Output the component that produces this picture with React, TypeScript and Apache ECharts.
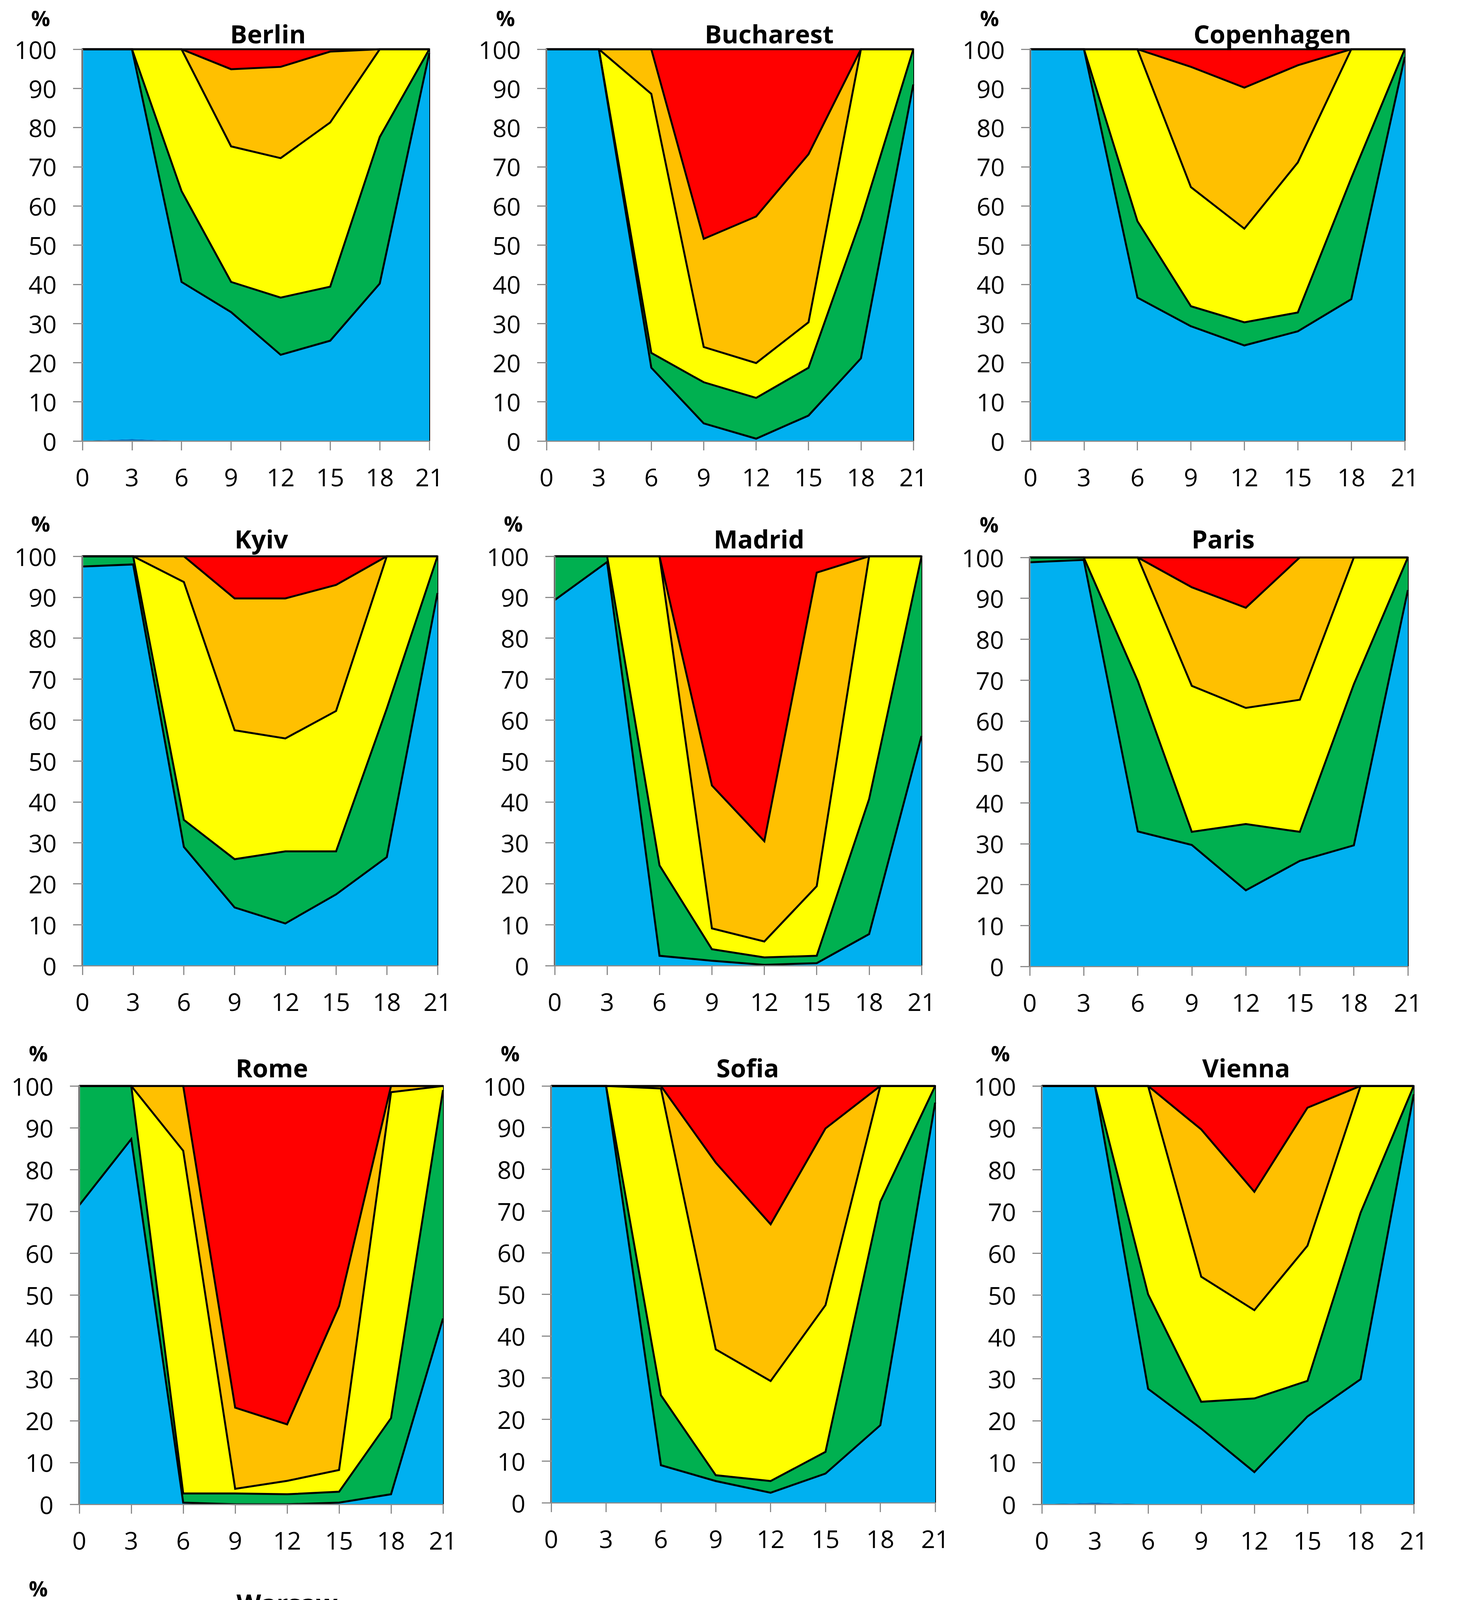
import React, { useEffect, useRef } from "react";
import * as echarts from "echarts";

// ---------- data ----------
const hours = ["0", "3", "6", "9", "12", "15", "18", "21"];
const categories = ["cold", "cool", "comfortable", "warm", "hot", "very hot"];
const legendOrder = ["very hot", "hot", "warm", "comfortable", "cool", "cold"];
const cityNames = ["Berlin", "Bucharest", "Copenhagen", "Kyiv", "Madrid", "Paris", "Rome", "Sofia", "Vienna", "Warsaw"];
const zeros = [0, 0, 0, 0, 0, 0, 0, 0];

// values per category, in the order of `categories`, at the hours above (% of time)
const berlin = [
  [0, 0.5, 0, 0, 0, 0, 0, 0],
  [100, 99.5, 40.6, 32.9, 22, 25.6, 40.2, 99],
  [0, 0, 23.2, 7.7, 14.6, 13.8, 37.4, 1],
  [0, 0, 36.2, 34.6, 35.6, 41.9, 22.4, 0],
  [0, 0, 0, 19.7, 23.3, 18.1, 0, 0],
  [0, 0, 0, 5.1, 4.5, 0.6, 0, 0],
];
const bucharest = [
  zeros,
  [100, 100, 18.7, 4.5, 0.6, 6.5, 21.1, 91],
  [0, 0, 3.8, 10.5, 10.4, 12.2, 35.4, 9],
  [0, 0, 66.1, 9, 8.9, 11.6, 43.5, 0],
  [0, 0, 11.4, 27.6, 37.4, 42.9, 0, 0],
  [0, 0, 0, 48.4, 42.7, 26.8, 0, 0],
];
const copenhagen = [
  zeros,
  [100, 100, 36.6, 29.3, 24.4, 28, 36.2, 98],
  [0, 0, 19.5, 5.1, 5.9, 4.8, 30.9, 2],
  [0, 0, 43.9, 30.4, 23.9, 38.3, 32.9, 0],
  [0, 0, 0, 30.7, 36, 24.8, 0, 0],
  [0, 0, 0, 4.5, 9.8, 4.1, 0, 0],
];
const kyiv = [
  zeros,
  [97.5, 98, 29, 14.2, 10.3, 17.4, 26.5, 91],
  [2.5, 2, 6.6, 11.8, 17.6, 10.5, 36.3, 9],
  [0, 0, 58.1, 31.5, 27.6, 34.3, 37.2, 0],
  [0, 0, 6.3, 32.2, 34.2, 30.8, 0, 0],
  [0, 0, 0, 10.3, 10.3, 7, 0, 0],
];
const madrid = [
  zeros,
  [89.3, 98.6, 2.4, 1.2, 0.2, 0.6, 7.7, 56.1],
  [10.7, 1.4, 22.1, 2.8, 1.8, 1.8, 33, 43.9],
  [0, 0, 75.5, 5.1, 3.9, 17, 59.3, 0],
  [0, 0, 0, 34.9, 24.5, 76.6, 0, 0],
  [0, 0, 0, 56, 69.6, 4, 0, 0],
];
const paris = [
  zeros,
  [98.8, 99.4, 33, 29.7, 18.6, 25.8, 29.6, 92],
  [1.2, 0.6, 36.8, 3.2, 16.2, 7.1, 39.4, 8],
  [0, 0, 30.2, 35.7, 28.4, 32.3, 31, 0],
  [0, 0, 0, 24.1, 24.5, 34.8, 0, 0],
  [0, 0, 0, 7.3, 12.3, 0, 0, 0],
];
const rome = [
  zeros,
  [71.5, 87.3, 0.4, 0, 0, 0.4, 2.4, 44.4],
  [28.5, 12.7, 2.2, 2.6, 2.4, 2.6, 18.2, 54.6],
  [0, 0, 81.9, 1.1, 3.2, 5.2, 77.9, 1],
  [0, 0, 15.5, 19.4, 13.5, 39.2, 1.5, 0],
  [0, 0, 0, 76.9, 80.9, 52.6, 0, 0],
];
const sofia = [
  zeros,
  [100, 100, 9, 5.2, 2.4, 7, 18.6, 96],
  [0, 0, 16.8, 1.4, 2.8, 5.2, 53.6, 4],
  [0, 0, 73.6, 30.2, 24, 35.2, 27.8, 0],
  [0, 0, 0.6, 44.8, 37.6, 42.4, 0, 0],
  [0, 0, 0, 18.4, 33.2, 10.2, 0, 0],
];
const vienna = [
  [0, 0.4, 0, 0, 0, 0, 0, 0],
  [100, 99.6, 27.6, 18.1, 7.7, 21, 29.9, 98],
  [0, 0, 22.6, 6.4, 17.6, 8.5, 39.8, 2],
  [0, 0, 49.8, 29.9, 21.1, 32.3, 30.3, 0],
  [0, 0, 0, 35.2, 28.3, 33, 0, 0],
  [0, 0, 0, 10.4, 25.3, 5.2, 0, 0],
];
const warsaw = [
  zeros,
  [100, 100, 29.8, 22.5, 15.4, 23.7, 36.9, 94],
  [0, 0, 23.5, 11.3, 9.1, 7, 43.3, 6],
  [0, 0, 46.3, 38.6, 34.8, 43.5, 19.8, 0],
  [0, 0, 0.4, 23.6, 34.8, 23.8, 0, 0],
  [0, 0, 0, 4, 5.9, 2, 0, 0],
];
const cityData = [berlin, bucharest, copenhagen, kyiv, madrid, paris, rome, sofia, vienna, warsaw];

// ---------- styling / layout ----------
const colors = ["#0070C0", "#00B0F0", "#00B050", "#FFFF00", "#FFC000", "#FF0000"];
const FONT = "'Open Sans', 'Noto Sans', sans-serif";
const AXIS_GREY = "#8c8c8c";

const layout = [
  { l: 211, r: 1099, t: 126, b: 1129, tx: 686, ty: 86, px: 104, py: 46 },
  { l: 1399, r: 2338, t: 126, b: 1129, tx: 1969, ty: 86, px: 1294, py: 46 },
  { l: 2638, r: 3596, t: 126, b: 1129, tx: 3257, ty: 86, px: 2533, py: 46 },
  { l: 211, r: 1120, t: 1424, b: 2472, tx: 669, ty: 1379, px: 104, py: 1340 },
  { l: 1420, r: 2359, t: 1424, b: 2472, tx: 1943, ty: 1379, px: 1314, py: 1340 },
  { l: 2636, r: 3604, t: 1427, b: 2474, tx: 3131, ty: 1379, px: 2532, py: 1342 },
  { l: 203, r: 1134, t: 2780, b: 3851, tx: 696, ty: 2733, px: 98, py: 2696 },
  { l: 1411, r: 2394, t: 2780, b: 3847, tx: 1914, ty: 2733, px: 1306, py: 2696 },
  { l: 2667, r: 3619, t: 2780, b: 3851, tx: 3190, ty: 2733, px: 2561, py: 2696 },
  { l: 203, r: 1134, t: 4147, b: 5181, tx: 735, ty: 4103, px: 98, py: 4066 },
];

export default function App() {
  const ref = useRef<HTMLDivElement>(null);

  useEffect(() => {
    const chart = echarts.init(ref.current as HTMLDivElement, null, { renderer: "svg" });
    const grid: any[] = [];
    const xAxis: any[] = [];
    const yAxis: any[] = [];
    const series: any[] = [];
    const graphic: any[] = [];

    cityData.forEach((values, i) => {
      const L = layout[i];
      grid.push({
        left: L.l,
        top: L.t,
        width: L.r - L.l,
        height: L.b - L.t,
        show: true,
        borderColor: "#000",
        borderWidth: 4,
        backgroundColor: "transparent",
      });
      xAxis.push({
        type: "category",
        gridIndex: i,
        data: hours,
        boundaryGap: false,
        z: 10,
        axisLine: { show: true, onZero: false, lineStyle: { color: AXIS_GREY, width: 3 } },
        axisTick: { show: true, interval: 0, length: 24, lineStyle: { color: AXIS_GREY, width: 3 } },
        axisLabel: { interval: 0, color: "#000", fontSize: 63, fontFamily: FONT, margin: 60 },
        splitLine: { show: false },
      });
      yAxis.push({
        type: "value",
        gridIndex: i,
        min: 0,
        max: 100,
        interval: 10,
        z: 10,
        axisLine: { show: true, lineStyle: { color: AXIS_GREY, width: 3 } },
        axisTick: { show: true, length: 24, lineStyle: { color: AXIS_GREY, width: 3 } },
        axisLabel: { color: "#000", fontSize: 63, fontFamily: FONT, margin: 66 },
        splitLine: { show: false },
      });
      categories.forEach((cat, k) => {
        series.push({
          name: cat,
          type: "line",
          xAxisIndex: i,
          yAxisIndex: i,
          stack: "area" + i,
          data: values[k],
          symbol: "none",
          silent: true,
          z: 2,
          itemStyle: { color: colors[k] },
          lineStyle: { width: 0, color: colors[k] },
          areaStyle: { color: colors[k], opacity: 1 },
        });
      });
      categories.forEach((cat, k) => {
        series.push({
          name: cat + " outline",
          type: "line",
          xAxisIndex: i,
          yAxisIndex: i,
          stack: "line" + i,
          data: values[k],
          symbol: "none",
          silent: true,
          z: 3,
          lineStyle: { width: k === 0 ? 0 : 5, color: "#000", join: "miter" },
        });
      });
      graphic.push({
        type: "text",
        x: L.tx,
        y: L.ty,
        style: {
          text: cityNames[i],
          font: `bold 65px ${FONT}`,
          fill: "#000",
          align: "center",
          verticalAlign: "middle",
          textAlign: "center",
          textVerticalAlign: "middle",
        },
      });
      graphic.push({
        type: "text",
        x: L.px,
        y: L.py,
        style: {
          text: "%",
          font: `bold 54px ${FONT}`,
          fill: "#000",
          align: "center",
          verticalAlign: "middle",
          textAlign: "center",
          textVerticalAlign: "middle",
        },
      });
    });

    chart.setOption({
      animation: false,
      backgroundColor: "#fff",
      grid,
      xAxis,
      yAxis,
      series,
      graphic,
      legend: {
        orient: "vertical",
        left: 1265,
        top: 4312,
        itemWidth: 48,
        itemHeight: 48,
        itemGap: 83,
        selectedMode: false,
        itemStyle: { borderWidth: 0 },
        textStyle: { fontSize: 78, fontFamily: FONT, color: "#000", lineHeight: 80, padding: [0, 0, 0, 18] },
        data: legendOrder.map((n) => ({ name: n, icon: "rect" })),
      },
    });

    return () => chart.dispose();
  }, []);

  return (
    <div
      ref={ref}
      style={{ position: "absolute", left: 0, top: 0, width: 3740, height: 5322 }}
    />
  );
}
